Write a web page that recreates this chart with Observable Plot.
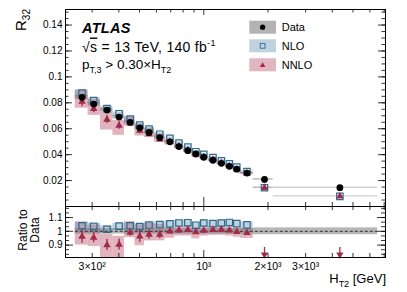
<!DOCTYPE html>
<html><head><meta charset="utf-8">
<script src="https://cdn.jsdelivr.net/npm/d3@7"></script>
<script src="https://cdn.jsdelivr.net/npm/@observablehq/plot@0.6"></script>
<style>
body{margin:0;background:#fff}
#c{position:relative;width:407px;height:292px;font-family:"Liberation Sans",Arial,Helvetica,sans-serif}
#c svg{position:absolute;left:0;overflow:visible}
</style></head><body><div id="c"></div>
<script>
// ---- data (HT2 bins) ----
const htLo     = [250, 287, 328, 375, 425, 476, 527, 588, 657, 729, 803, 879, 958, 1050, 1155, 1262, 1372, 1480, 1705, 2113];
const htHi     = [287, 328, 375, 425, 476, 527, 588, 657, 729, 803, 879, 958, 1050, 1155, 1262, 1372, 1480, 1705, 2113, 6524];
const htCenter = [269, 305, 352, 401, 452, 501, 554, 622, 694, 765, 842, 918, 1000, 1104, 1209, 1318, 1428, 1594, 1925, 4340];
// measured R32
const dataR32  = [0.0842, 0.0790, 0.0744, 0.0690, 0.0649, 0.0607, 0.0571, 0.0532, 0.0499, 0.0462, 0.0431, 0.0405, 0.0380, 0.0357, 0.0333, 0.0310, 0.0288, 0.0258, 0.0209, 0.0145];
const dataUnc  = [0.02, 0.02, 0.02, 0.02, 0.02, 0.02, 0.02, 0.02, 0.02, 0.02, 0.02, 0.02, 0.02, 0.02, 0.02, 0.02, 0.02, 0.02, 0.025, 0.025];
// NLO prediction
const nloR32   = [0.0876, 0.0818, 0.0755, 0.0716, 0.0675, 0.0628, 0.0597, 0.0558, 0.0526, 0.0490, 0.0458, 0.0423, 0.0403, 0.0377, 0.0353, 0.0330, 0.0304, 0.0270, 0.0145, 0.0078];
const nloUncDn = [0.035, 0.035, 0.03, 0.03, 0.03, 0.03, 0.03, 0.03, 0.03, 0.03, 0.03, 0.03, 0.03, 0.03, 0.03, 0.03, 0.03, 0.03, 0.03, 0.03];
const nloUncUp = [0.025, 0.025, 0.025, 0.02, 0.02, 0.02, 0.02, 0.02, 0.02, 0.02, 0.02, 0.02, 0.02, 0.02, 0.02, 0.02, 0.02, 0.02, 0.02, 0.02];
// NNLO prediction
const nnloR32   = [0.0810, 0.0754, 0.0670, 0.0624, 0.0643, 0.0585, 0.0558, 0.0519, 0.0499, 0.0465, 0.0436, 0.0403, 0.0382, 0.0361, 0.0337, 0.0312, 0.0287, 0.0255, 0.0145, 0.0078];
const nnloUncDn = [0.064, 0.068, 0.12, 0.12, 0.037, 0.071, 0.048, 0.046, 0.05, 0.04, 0.045, 0.05, 0.04, 0.04, 0.04, 0.04, 0.04, 0.04, 0.03, 0.03];
const nnloUncUp = [0.11, 0.096, 0.086, 0.066, 0.081, 0.087, 0.083, 0.077, 0.03, 0.025, 0.025, 0.03, 0.025, 0.025, 0.025, 0.025, 0.025, 0.03, 0.03, 0.03];
const nnloStat  = [0.05, 0.04, 0.045, 0.045, 0.027, 0.045, 0.035, 0.03, 0.02, 0.02, 0.018, 0.018, 0.015, 0.015, 0.015, 0.015, 0.015, 0.015, 0.015, 0.015];
// axis ticks
const yTickValues = [0.02, 0.04, 0.06, 0.08, 0.1, 0.12, 0.14];
const yTickLabels = ["0.02", "0.04", "0.06", "0.08", "0.1", "0.12", "0.14"];
const rTickValues = [0.9, 1, 1.1];
const rTickLabels = ["0.9", "1", "1.1"];
const xTickValues = [300, 1000, 2000, 3000];
const xTickLabels = ["3×10²", "10³", "2×10³", "3×10³"];

const RED = "#9e2b48", BLUE = "#2f6a8f";
const PINKF = "#b23a5a", BLUEF = "#5b8ba8", GRAYF = "#6e6e6e";
const FONT = "Liberation Sans, Arial, Helvetica, sans-serif";

const rows = htCenter.map((x, i) => ({
  x, lo: htLo[i], hi: htHi[i],
  data: dataR32[i], dUnc: dataUnc[i],
  nlo: nloR32[i], nloDn: nloUncDn[i], nloUp: nloUncUp[i],
  nnlo: nnloR32[i], nnloDn: nnloUncDn[i], nnloUp: nnloUncUp[i], stat: nnloStat[i],
  rNlo: nloR32[i] / dataR32[i], rNnlo: nnloR32[i] / dataR32[i]
}));

const xDomain = [225, 7100];
const xMinor = [300, 400, 500, 600, 700, 800, 900, 2000, 3000, 4000, 5000, 6000, 7000];
const xMajor = [1000];
const W = 407, ML = 65, MR = 22;
const innerW = W - ML - MR;

// ---------- main panel ----------
const H1 = 208, MT1 = 9, MB1 = 2;
const ih1 = H1 - MT1 - MB1;
const yMinor = d3.range(0, 0.1525, 0.005);
const yMajor = d3.range(0, 0.1525, 0.02);
const main = Plot.plot({
  width: W, height: H1, marginTop: MT1, marginBottom: MB1, marginLeft: ML, marginRight: MR,
  style: {background: "none", fontFamily: FONT, overflow: "visible"},
  x: {type: "log", domain: xDomain, axis: null},
  y: {domain: [0, 0.152], axis: null},
  marks: [
    Plot.rect(rows, {x1: "lo", x2: "hi", y1: d => d.nnlo * (1 - d.nnloDn), y2: d => d.nnlo * (1 + d.nnloUp), fill: PINKF, fillOpacity: 0.38}),
    Plot.rect(rows, {x1: "lo", x2: "hi", y1: d => d.nlo * (1 - d.nloDn), y2: d => d.nlo * (1 + d.nloUp), fill: BLUEF, fillOpacity: 0.38}),
    Plot.rect(rows, {x1: "lo", x2: "hi", y1: d => d.data * (1 - d.dUnc), y2: d => d.data * (1 + d.dUnc), fill: GRAYF, fillOpacity: 0.5}),
    Plot.ruleX(rows, {x: "x", y1: d => d.nnlo * (1 - d.stat), y2: d => d.nnlo * (1 + d.stat), stroke: RED, strokeWidth: 1.3}),
    Plot.dot(rows, {x: "x", y: "nlo", symbol: "square", r: 3.6, stroke: BLUE, strokeWidth: 1.2, fill: "none"}),
    Plot.dot(rows, {x: "x", y: "nnlo", symbol: "triangle", r: 2.8, fill: RED}),
    Plot.dot(rows, {x: "x", y: "data", r: 3.4, fill: "black"}),
    // ticks (inward)
    Plot.ruleY(yMinor, {y: d => d, insetRight: innerW - 3.5, stroke: "black", strokeWidth: 0.8}),
    Plot.ruleY(yMajor, {y: d => d, insetRight: innerW - 7, stroke: "black", strokeWidth: 0.8}),
    Plot.ruleY(yMinor, {y: d => d, insetLeft: innerW - 3.5, stroke: "black", strokeWidth: 0.8}),
    Plot.ruleY(yMajor, {y: d => d, insetLeft: innerW - 7, stroke: "black", strokeWidth: 0.8}),
    Plot.ruleX(xMinor, {x: d => d, insetTop: ih1 - 4, stroke: "black", strokeWidth: 0.8}),
    Plot.ruleX(xMajor, {x: d => d, insetTop: ih1 - 9, stroke: "black", strokeWidth: 0.8}),
    Plot.ruleX(xMinor, {x: d => d, insetBottom: ih1 - 3.5, stroke: "black", strokeWidth: 0.8}),
    Plot.ruleX(xMajor, {x: d => d, insetBottom: ih1 - 6, stroke: "black", strokeWidth: 0.8}),
    Plot.axisY({ticks: yTickValues, tickSize: 0, tickPadding: 3, fontSize: 10, tickFormat: d => yTickLabels[yTickValues.indexOf(d)], label: null}),
    Plot.frame({stroke: "black", strokeWidth: 1})
  ]
});

// ---------- ratio panel ----------
const H2 = 88, MT2 = 2, MB2 = 35;
const ih2 = H2 - MT2 - MB2;
const rDomain = [0.81, 1.18];
const rMinor = d3.range(0.8, 1.2, 0.1 / 3).filter(v => v >= rDomain[0] && v <= rDomain[1]);
const inR = rows.filter(d => d.rNnlo >= rDomain[0]);
const outR = rows.filter(d => d.rNnlo < rDomain[0]);
const ratio = Plot.plot({
  width: W, height: H2, marginTop: MT2, marginBottom: MB2, marginLeft: ML, marginRight: MR,
  style: {background: "none", fontFamily: FONT, overflow: "visible"},
  x: {type: "log", domain: xDomain, axis: null},
  y: {domain: rDomain, axis: null},
  marks: [
    Plot.rect(rows, {x1: "lo", x2: "hi", y1: d => d.rNnlo * (1 - d.nnloDn), y2: d => d.rNnlo * (1 + d.nnloUp), fill: PINKF, fillOpacity: 0.38, clip: true}),
    Plot.rect(rows, {x1: "lo", x2: "hi", y1: d => d.rNlo * (1 - d.nloDn), y2: d => d.rNlo * (1 + d.nloUp), fill: BLUEF, fillOpacity: 0.38, clip: true}),
    Plot.rect(rows, {x1: "lo", x2: "hi", y1: d => 1 - d.dUnc, y2: d => 1 + d.dUnc, fill: GRAYF, fillOpacity: 0.5}),
    Plot.ruleY([1], {x1: htLo[0], x2: htHi[htHi.length - 1], stroke: "#222", strokeWidth: 0.9, strokeDasharray: "3,2"}),
    Plot.ruleX(inR, {x: "x", y1: d => d.rNnlo * (1 - d.stat), y2: d => d.rNnlo * (1 + d.stat), stroke: RED, strokeWidth: 1.3, clip: true}),
    Plot.dot(inR, {x: "x", y: "rNlo", symbol: "square", r: 3.6, stroke: BLUE, strokeWidth: 1.2, fill: "none"}),
    Plot.dot(inR, {x: "x", y: "rNnlo", symbol: "triangle", r: 2.8, fill: RED}),
    // off-scale arrows
    Plot.ruleX(outR, {x: "x", insetTop: ih2 - 10, insetBottom: 3, stroke: RED, strokeWidth: 1.3}),
    Plot.dot(outR, {x: "x", frameAnchor: "bottom", dy: -3, symbol: "triangle", rotate: 180, r: 2.7, fill: RED}),
    // ticks
    Plot.ruleY(rMinor, {y: d => d, insetRight: innerW - 4, stroke: "black", strokeWidth: 0.8}),
    Plot.ruleY(rTickValues, {y: d => d, insetRight: innerW - 8, stroke: "black", strokeWidth: 0.8}),
    Plot.ruleY(rMinor, {y: d => d, insetLeft: innerW - 4, stroke: "black", strokeWidth: 0.8}),
    Plot.ruleY(rTickValues, {y: d => d, insetLeft: innerW - 8, stroke: "black", strokeWidth: 0.8}),
    Plot.ruleX(xMinor, {x: d => d, insetTop: ih2 - 4, stroke: "black", strokeWidth: 0.8}),
    Plot.ruleX(xMajor, {x: d => d, insetTop: ih2 - 7, stroke: "black", strokeWidth: 0.8}),
    Plot.ruleX(xMinor, {x: d => d, insetBottom: ih2 - 4, stroke: "black", strokeWidth: 0.8}),
    Plot.ruleX(xMajor, {x: d => d, insetBottom: ih2 - 5, stroke: "black", strokeWidth: 0.8}),
    Plot.axisY({ticks: rTickValues, tickSize: 0, tickPadding: 3, fontSize: 10, tickFormat: d => rTickLabels[rTickValues.indexOf(d)], label: null}),
    Plot.text(xTickValues, {x: d => d, text: d => xTickLabels[xTickValues.indexOf(d)], frameAnchor: "bottom", lineAnchor: "top", dy: 5, fontSize: 10.5, fill: "black"}),
    Plot.frame({stroke: "black", strokeWidth: 1})
  ]
});

const c = document.getElementById("c");
main.style.top = "0px";
ratio.style.top = "204px";
c.appendChild(main);
c.appendChild(ratio);

// ---------- annotations ----------
function txt(svg, x, y, parts, o = {}) {
  const t = d3.select(svg).append("text")
    .attr("x", x).attr("y", y)
    .attr("font-family", FONT).attr("font-size", o.size || 12)
    .attr("text-anchor", o.anchor || "start")
    .attr("fill", "black");
  if (o.weight) t.attr("font-weight", o.weight);
  if (o.style) t.attr("font-style", o.style);
  if (o.spacing) t.attr("letter-spacing", o.spacing);
  if (o.transform) t.attr("transform", o.transform).attr("x", 0).attr("y", 0);
  let cur = 0;
  for (const p of parts) {
    const s = t.append("tspan").text(p.t);
    const shift = p.dy || 0;
    if (shift !== cur) { s.attr("dy", shift - cur); cur = shift; }
    if (p.size) s.attr("font-size", p.size);
    if (p.style) s.attr("font-style", p.style);
    if (p.deco) s.attr("text-decoration", p.deco);
  }
  return t;
}
const m = main;
txt(m, 82, 32.5, [{t: "ATLAS"}], {size: 14.5, weight: "bold", style: "italic", spacing: 0.3});
txt(m, 82, 51.5, [{t: "√"}, {t: "s", deco: "overline"}, {t: " = 13 TeV, 140 fb"}, {t: "-1", dy: -5.5, size: 9}], {size: 14, spacing: 0.3});
txt(m, 82, 68.5, [{t: "p"}, {t: "T,3", dy: 4, size: 9}, {t: " > 0.30×H"}, {t: "T2", dy: 4, size: 9}], {size: 13.5});
txt(m, 0, 0, [{t: "R"}, {t: "32", dy: 4, size: 10}], {size: 15, anchor: "end", transform: "translate(25.5,9) rotate(-90)"});

// legend
const leg = [
  {label: "Data", y: 20.7, fill: "#b3b3b3"},
  {label: "NLO", y: 39.3, fill: "#bfd3de"},
  {label: "NNLO", y: 58.3, fill: "#e2b6c1"}
];
const g = d3.select(m).append("g");
leg.forEach((l, i) => {
  g.append("rect").attr("x", 249.3).attr("y", l.y).attr("width", 26.7).attr("height", 13).attr("fill", l.fill);
  const cx = 262.6, cy = l.y + 6.5;
  if (i === 0) g.append("circle").attr("cx", cx).attr("cy", cy).attr("r", 2.6).attr("fill", "black");
  if (i === 1) g.append("rect").attr("x", cx - 2.4).attr("y", cy - 2.4).attr("width", 4.8).attr("height", 4.8).attr("fill", "none").attr("stroke", BLUE).attr("stroke-width", 0.9);
  if (i === 2) g.append("path").attr("d", `M${cx - 2.8},${cy + 2.3}L${cx + 2.8},${cy + 2.3}L${cx},${cy - 2.6}Z`).attr("fill", RED);
  txt(m, 281.7, l.y + 10.3, [{t: l.label}], {size: 11});
});

// ratio labels
txt(ratio, 0, 0, [{t: "Ratio to"}], {size: 12, anchor: "middle", transform: "translate(26.5,26) rotate(-90)"});
txt(ratio, 0, 0, [{t: "Data"}], {size: 12, anchor: "middle", transform: "translate(38.5,26) rotate(-90)"});
txt(ratio, 386, 79, [{t: "H"}, {t: "T2", dy: 3.5, size: 9}, {t: " [GeV]", dy: 0}], {size: 13, anchor: "end"});
</script>
</body></html>
